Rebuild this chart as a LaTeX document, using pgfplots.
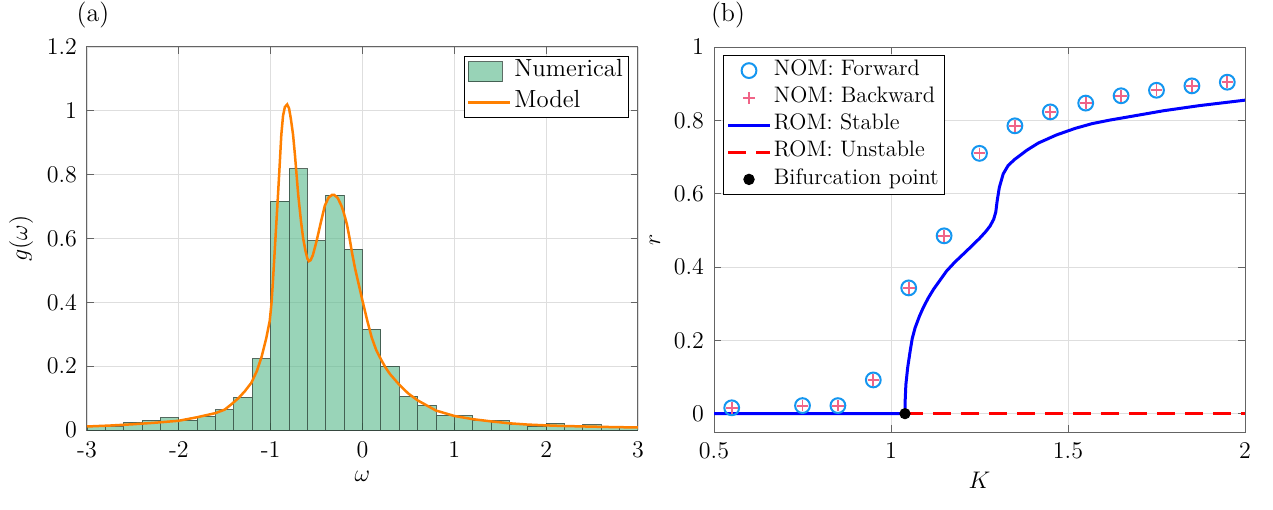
\documentclass[border=0pt]{standalone}
\usepackage{pgfplots}
\pgfplotsset{compat=1.18}

\definecolor{histfill}{RGB}{90,185,140}
\definecolor{histedge}{RGB}{40,60,50}
\definecolor{modelorange}{RGB}{255,128,0}
\definecolor{fwdblue}{RGB}{20,150,240}
\definecolor{bwdpink}{RGB}{240,100,135}
\definecolor{axgray}{RGB}{100,100,100}
\definecolor{gridgray}{RGB}{222,222,222}

\pgfplotsset{
  panel/.style={
    scale only axis,
    axis line style={axgray, line width=0.5pt},
    tick style={axgray, line width=0.5pt},
    tick align=inside,
    major tick length=3.5pt,
    grid=major,
    major grid style={gridgray, line width=0.45pt},
    tick label style={font=\fontsize{12}{14}\selectfont},
    xticklabel style={yshift=-2pt},
    yticklabel style={xshift=-1.5pt},
    label style={font=\fontsize{13}{15}\selectfont},
    legend cell align=left,
    legend image code/.code={%
      \draw[mark repeat=2,mark phase=2,##1]
        plot coordinates {(0pt,0pt) (10.5pt,0pt) (21pt,0pt)};},
  },
  histlegend/.style={
    legend image code/.code={%
      \draw[##1] (0pt,-5pt) rectangle (17pt,5pt);},
  },
}

\begin{document}
\begin{tikzpicture}
\path[use as bounding box] (-43.5pt,-39.5pt) rectangle (593pt,215pt);

% (a) frequency distribution
\begin{axis}[panel,
  at={(0pt,0pt)}, anchor=south west,
  width=275.5pt, height=191.5pt,
  xmin=-3, xmax=3, ymin=0, ymax=1.2,
  xtick={-3,-2,...,3},
  xticklabels={{-3},{-2},{-1},0,1,2,3},
  ytick={0,0.2,...,1.2},
  xlabel={$\omega$}, ylabel={$g(\omega)$},
  legend style={at={(1,1)}, anchor=north east, xshift=-4.5pt, yshift=-4.5pt,
    font=\fontsize{12.4}{14}\selectfont, draw=black, line width=0.5pt,
    inner sep=1.5pt, row sep=3pt,
    nodes={inner sep=1.3pt, text height=0.72em, text depth=0.25em}},
]
\addplot[ybar interval, fill=histfill, fill opacity=0.62,
  draw=histedge, draw opacity=0.75, line width=0.45pt, histlegend]
coordinates {
(-3.0,0.010) (-2.8,0.010) (-2.6,0.024) (-2.4,0.030) (-2.2,0.039)
(-2.0,0.030) (-1.8,0.043) (-1.6,0.063) (-1.4,0.102) (-1.2,0.224)
(-1.0,0.717) (-0.8,0.818) (-0.6,0.593) (-0.4,0.736) (-0.2,0.566)
(0.0,0.315) (0.2,0.200) (0.4,0.105) (0.6,0.077) (0.8,0.047)
(1.0,0.045) (1.2,0.030) (1.4,0.029) (1.6,0.018) (1.8,0.0125)
(2.0,0.021) (2.2,0.0125) (2.4,0.017) (2.6,0.008) (2.8,0.011)
(3.0,0.011)
};
\addlegendentry{Numerical}
\addplot[modelorange, line width=1.25pt] coordinates {
(-3.0,0.011) (-2.75,0.014) (-2.5,0.018) (-2.25,0.023) (-2.0,0.029)
(-1.8,0.040) (-1.6,0.053) (-1.5,0.064) (-1.43,0.080) (-1.35,0.100)
(-1.28,0.122) (-1.21,0.148) (-1.15,0.185) (-1.10,0.228) (-1.05,0.285)
(-1.01,0.342) (-0.99,0.40) (-0.975,0.467) (-0.95,0.59) (-0.92,0.737)
(-0.90,0.84) (-0.884,0.925) (-0.865,0.985) (-0.845,1.012) (-0.82,1.020)
(-0.80,1.008) (-0.78,0.975) (-0.756,0.925) (-0.735,0.86) (-0.70,0.737)
(-0.67,0.655) (-0.646,0.600) (-0.62,0.560) (-0.60,0.537) (-0.584,0.529)
(-0.565,0.532) (-0.54,0.548) (-0.50,0.592) (-0.45,0.655) (-0.41,0.703)
(-0.37,0.728) (-0.33,0.737) (-0.31,0.737) (-0.27,0.727) (-0.23,0.703)
(-0.208,0.685) (-0.17,0.645) (-0.14,0.600) (-0.117,0.560) (-0.08,0.505)
(-0.04,0.455) (0.0,0.405) (0.05,0.345) (0.10,0.290) (0.15,0.250)
(0.20,0.222) (0.25,0.196) (0.30,0.175) (0.40,0.142) (0.50,0.114)
(0.60,0.093) (0.80,0.061) (1.0,0.044) (1.2,0.034) (1.4,0.027)
(1.6,0.021) (1.8,0.017) (2.0,0.0145) (2.2,0.0125) (2.5,0.0105)
(2.75,0.009) (3.0,0.008)
};
\addlegendentry{Model}
\end{axis}

% (b) order parameter vs coupling
\begin{axis}[panel,
  at={(313.5pt,-1pt)}, anchor=south west,
  width=265.5pt, height=192.5pt,
  xmin=0.5, xmax=2, ymin=-0.05, ymax=1,
  xtick={0.5,1,1.5,2},
  ytick={0,0.2,...,1},
  xlabel={$K$}, ylabel={$r$},
  legend style={at={(0,1)}, anchor=north west, xshift=4.5pt, yshift=-4pt,
    font=\fontsize{11.2}{13}\selectfont, draw=black, line width=0.5pt,
    inner sep=1.5pt, row sep=1.5pt,
    nodes={inner sep=1.2pt, text height=0.72em, text depth=0.25em}},
]
\addplot[only marks, mark=o, mark size=3.7pt, fwdblue, line width=1pt]
coordinates {
(0.55,0.016) (0.75,0.022) (0.85,0.022) (0.95,0.092) (1.05,0.343)
(1.15,0.485) (1.25,0.710) (1.35,0.785) (1.45,0.823) (1.55,0.847)
(1.65,0.867) (1.75,0.882) (1.85,0.894) (1.95,0.904)
};
\addlegendentry{NOM: Forward}
\addplot[only marks, mark=+, mark size=2.9pt, bwdpink, line width=0.9pt]
coordinates {
(0.55,0.016) (0.75,0.022) (0.85,0.022) (0.95,0.092) (1.05,0.343)
(1.15,0.485) (1.25,0.710) (1.35,0.785) (1.45,0.823) (1.55,0.847)
(1.65,0.867) (1.75,0.882) (1.85,0.894) (1.95,0.904)
};
\addlegendentry{NOM: Backward}
\addplot[blue, line width=1.5pt] coordinates {
(0.5,0) (1.0395,0) (1.040,0.035) (1.042,0.079) (1.047,0.125)
(1.054,0.170) (1.060,0.205) (1.068,0.234) (1.080,0.265) (1.091,0.289)
(1.105,0.315) (1.120,0.339) (1.140,0.366) (1.157,0.389) (1.180,0.413)
(1.204,0.435) (1.230,0.459) (1.251,0.479) (1.268,0.497) (1.280,0.512)
(1.290,0.530) (1.296,0.550) (1.300,0.581) (1.306,0.617) (1.317,0.654)
(1.331,0.677) (1.350,0.694) (1.364,0.704) (1.383,0.718) (1.416,0.738)
(1.467,0.760) (1.520,0.778) (1.568,0.791) (1.620,0.801) (1.668,0.809)
(1.769,0.826) (1.870,0.840) (2.0,0.855)
};
\addlegendentry{ROM: Stable}
\addplot[red, line width=1.5pt, dash pattern=on 9pt off 5pt] coordinates {
(1.0395,0) (2.0,0)
};
\addlegendentry{ROM: Unstable}
\addplot[only marks, mark=*, mark size=2.6pt, black] coordinates {
(1.0395,0)
};
\addlegendentry{Bifurcation point}
\end{axis}

\node[font=\fontsize{13}{15}\selectfont] at (3pt,207.5pt) {(a)};
\node[font=\fontsize{13}{15}\selectfont] at (320.5pt,207.5pt) {(b)};
\end{tikzpicture}
\end{document}
